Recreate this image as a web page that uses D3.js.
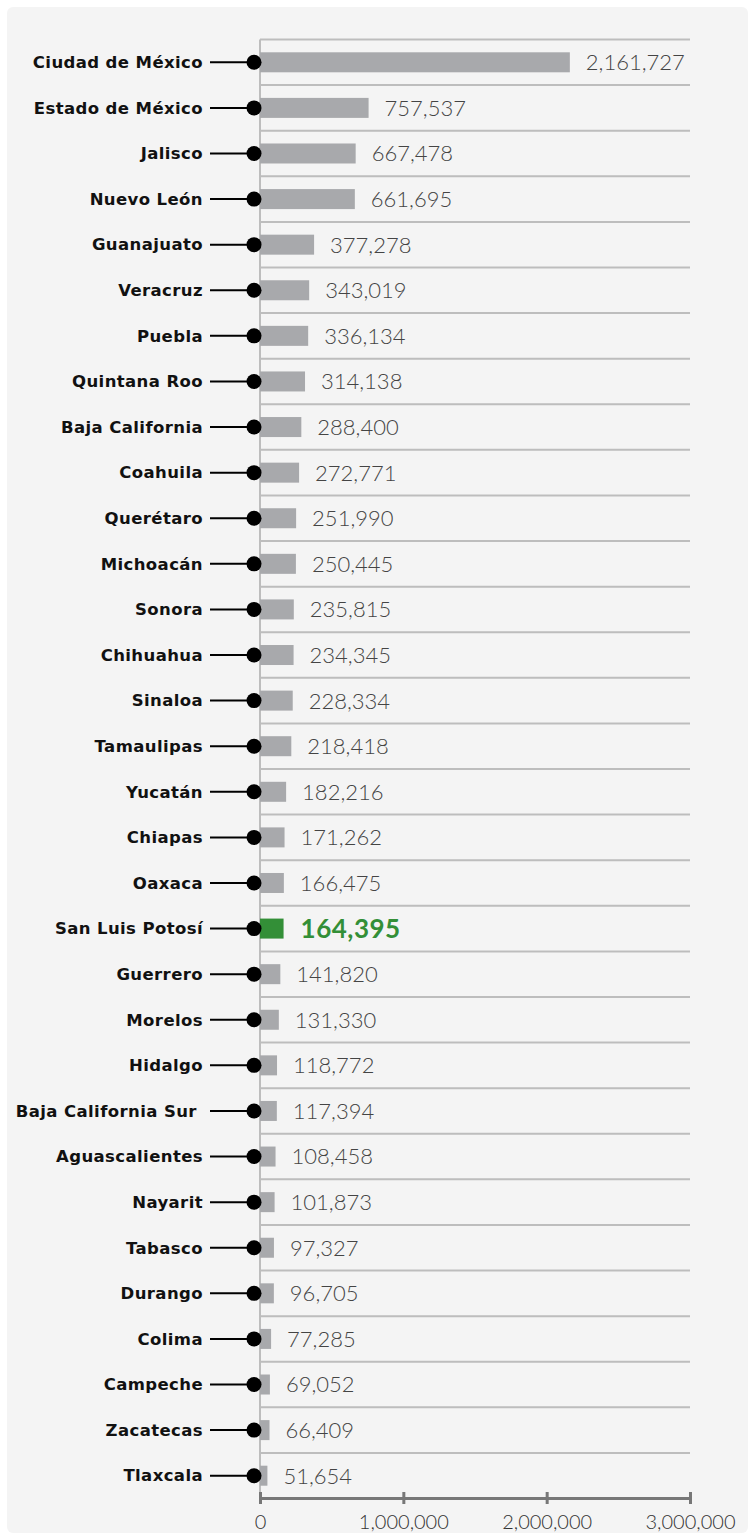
<!DOCTYPE html>
<html>
<head>
<meta charset="utf-8">
<script src="https://cdn.jsdelivr.net/npm/d3@7"></script>
<style>
  body { margin: 0; background: #ffffff; }
  svg { display: block; }
</style>
</head>
<body>
<div id="chart"></div>
<script>
// data
var states = ["Ciudad de México", "Estado de México", "Jalisco", "Nuevo León", "Guanajuato",
    "Veracruz", "Puebla", "Quintana Roo", "Baja California", "Coahuila", "Querétaro",
    "Michoacán", "Sonora", "Chihuahua", "Sinaloa", "Tamaulipas", "Yucatán", "Chiapas",
    "Oaxaca", "San Luis Potosí", "Guerrero", "Morelos", "Hidalgo", "Baja California Sur ",
    "Aguascalientes", "Nayarit", "Tabasco", "Durango", "Colima", "Campeche", "Zacatecas", "Tlaxcala"];
var values = [2161727, 757537, 667478, 661695, 377278, 343019, 336134, 314138, 288400, 272771,
    251990, 250445, 235815, 234345, 228334, 218418, 182216, 171262, 166475, 164395, 141820,
    131330, 118772, 117394, 108458, 101873, 97327, 96705, 77285, 69052, 66409, 51654];
var highlight = "San Luis Potosí";
var xTicks = [0, 1000000, 2000000, 3000000];

var W = 748, H = 1533;
var svg = d3.select("#chart").append("svg")
    .attr("width", W)
    .attr("height", H);

// background panel
svg.append("rect")
    .attr("x", 7).attr("y", 7)
    .attr("width", W - 7).attr("height", H - 7)
    .attr("rx", 6)
    .attr("fill", "#f4f4f4");

var x = d3.scaleLinear().domain([0, 3000000]).range([260, 690]);
var y = d3.scaleBand().domain(states).range([39.5, 1498.5]).paddingInner(0).paddingOuter(0);
var barH = 20;
var fmt = d3.format(",");

// row separators
var bounds = states.map(function(d) { return y(d); });
svg.append("g").selectAll("line")
    .data(bounds)
    .enter().append("line")
    .attr("x1", x(0)).attr("x2", x(3000000))
    .attr("y1", function(d) { return d; })
    .attr("y2", function(d) { return d; })
    .attr("stroke", "#bdbdbd")
    .attr("stroke-width", 2);

// vertical baseline
svg.append("line")
    .attr("x1", x(0)).attr("x2", x(0))
    .attr("y1", y.range()[0]).attr("y2", y.range()[1])
    .attr("stroke", "#bdbdbd")
    .attr("stroke-width", 2);

var rows = svg.append("g").selectAll("g")
    .data(states)
    .enter().append("g")
    .attr("transform", function(d) { return "translate(0," + (y(d) + y.bandwidth() / 2) + ")"; });

// bars
rows.append("rect")
    .attr("x", x(0))
    .attr("y", -barH / 2)
    .attr("width", function(d, i) { return x(values[i]) - x(0); })
    .attr("height", barH)
    .attr("fill", function(d) { return d == highlight ? "#338f37" : "#a8a9ac"; });

// connectors
rows.append("line")
    .attr("x1", 210).attr("x2", 254)
    .attr("stroke", "#000")
    .attr("stroke-width", 2);
rows.append("circle")
    .attr("cx", 254)
    .attr("r", 7.5)
    .attr("fill", "#000");

// state labels
rows.append("text")
    .attr("x", 203)
    .attr("dy", "0.35em")
    .attr("text-anchor", "end")
    .style("font-family", "'DejaVu Sans', sans-serif")
    .style("font-weight", "bold")
    .style("font-size", "16.5px")
    .style("letter-spacing", "0.4px")
    .style("white-space", "pre")
    .attr("fill", "#111")
    .text(function(d) { return d; });

// value labels
rows.append("text")
    .attr("x", function(d, i) { return x(values[i]) + (d == highlight ? 17 : 16); })
    .attr("dy", "0.36em")
    .style("font-family", "Lato, sans-serif")
    .style("font-weight", function(d) { return d == highlight ? "bold" : "300"; })
    .style("font-size", function(d) { return d == highlight ? "26px" : "22px"; })
    .style("letter-spacing", function(d) { return d == highlight ? "0.5px" : "0px"; })
    .attr("fill", function(d) { return d == highlight ? "#338f37" : "#444"; })
    .text(function(d, i) { return fmt(values[i]); });

// x axis
var axis = svg.append("g")
    .attr("transform", "translate(0,1498)")
    .call(d3.axisBottom(x).tickValues(xTicks).tickFormat(fmt).tickSize(6).tickSizeOuter(0));
axis.select(".domain").attr("stroke", "#777").attr("stroke-width", 3);
axis.selectAll(".tick line").attr("stroke", "#777").attr("stroke-width", 3).attr("y1", -6);
axis.selectAll(".tick text")
    .attr("y", 17)
    .attr("fill", "#333")
    .style("font-family", "Lato, sans-serif")
    .style("font-weight", "300")
    .style("font-size", "20px");
</script>
</body>
</html>
